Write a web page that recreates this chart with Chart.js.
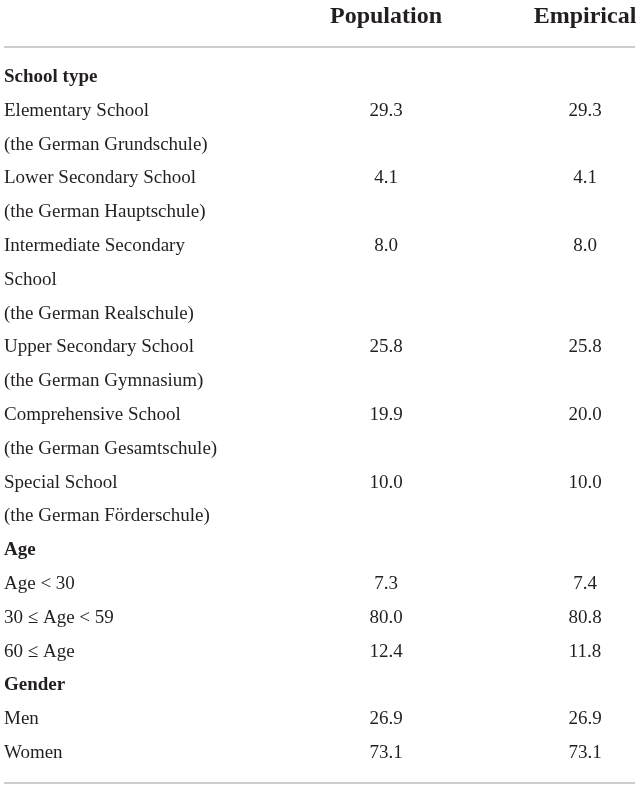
<!DOCTYPE html>
<html>
<head>
<meta charset="utf-8">
<script src="https://cdn.jsdelivr.net/npm/chart.js@4.4.0/dist/chart.umd.min.js"></script>
<style>
  html, body { margin: 0; padding: 0; background: #fff; }
  #wrap { width: 641px; height: 788px; }
</style>
</head>
<body>
<div id="wrap"><canvas id="sample-table"></canvas></div>
<script>
const columnLabels = ['Population', 'Empirical'];

const rowLabels = [
  'School type',
  'Elementary School',
  '(the German Grundschule)',
  'Lower Secondary School',
  '(the German Hauptschule)',
  'Intermediate Secondary',
  'School',
  '(the German Realschule)',
  'Upper Secondary School',
  '(the German Gymnasium)',
  'Comprehensive School',
  '(the German Gesamtschule)',
  'Special School',
  '(the German Förderschule)',
  'Age',
  'Age < 30',
  '30 ≤ Age < 59',
  '60 ≤ Age',
  'Gender',
  'Men',
  'Women',
];

const groupLabels = ['School type', 'Age', 'Gender'];

const populationValues = [null, 29.3, null, 4.1, null, 8.0, null, null, 25.8, null, 19.9, null, 10.0, null, null, 7.3, 80.0, 12.4, null, 26.9, 73.1];
const empiricalValues = [null, 29.3, null, 4.1, null, 8.0, null, null, 25.8, null, 20.0, null, 10.0, null, null, 7.4, 80.8, 11.8, null, 26.9, 73.1];

const serif = '"Liberation Serif", "Times New Roman", "DejaVu Serif", serif';
const textColor = '#231f20';
const ruleColor = '#cccccc';

function toCells(values, column) {
  return values
    .map((v, i) => (v === null ? null : { x: column, y: rowLabels[i], v: v }))
    .filter((cell) => cell !== null);
}

// writes the numbers where the scales put each cell
const cellText = {
  id: 'cellText',
  afterDatasetsDraw(chart) {
    const ctx = chart.ctx;
    ctx.save();
    ctx.font = '19px ' + serif;
    ctx.fillStyle = textColor;
    ctx.textAlign = 'center';
    ctx.textBaseline = 'middle';
    chart.data.datasets.forEach((ds, di) => {
      chart.getDatasetMeta(di).data.forEach((pt, i) => {
        ctx.fillText(ds.data[i].v.toFixed(1), pt.x, pt.y);
      });
    });
    ctx.restore();
  },
};

// top and bottom rules of the table
const tableRules = {
  id: 'tableRules',
  afterDraw(chart) {
    const { ctx, chartArea } = chart;
    const left = chart.scales.y.left;
    const right = chart.width - 6;
    ctx.save();
    ctx.strokeStyle = ruleColor;
    ctx.lineWidth = 2;
    [chartArea.top - 13, chartArea.bottom + 13].forEach((y) => {
      ctx.beginPath();
      ctx.moveTo(left, y);
      ctx.lineTo(right, y);
      ctx.stroke();
    });
    ctx.restore();
  },
};

new Chart(document.getElementById('sample-table'), {
  type: 'scatter',
  data: {
    datasets: [
      { label: columnLabels[0], data: toCells(populationValues, columnLabels[0]), pointRadius: 0 },
      { label: columnLabels[1], data: toCells(empiricalValues, columnLabels[1]), pointRadius: 0 },
    ],
  },
  options: {
    responsive: true,
    maintainAspectRatio: false,
    animation: false,
    layout: { padding: { left: 4, right: 56, top: 0, bottom: 18 } },
    plugins: {
      legend: { display: false },
      tooltip: { enabled: false },
    },
    scales: {
      x: {
        type: 'category',
        labels: columnLabels,
        position: 'top',
        offset: false,
        grid: { display: false, drawTicks: true, tickLength: 29 },
        border: { display: false },
        ticks: {
          autoSkip: false,
          maxRotation: 0,
          padding: 0,
          color: textColor,
          font: { family: serif, size: 24, weight: 'bold' },
        },
        afterFit(scale) {
          scale.height = 60;
          scale.paddingLeft = 0;
          scale.paddingRight = 0;
        },
      },
      y: {
        type: 'category',
        labels: rowLabels,
        offset: true,
        grid: { display: false, drawTicks: false },
        border: { display: false },
        ticks: {
          autoSkip: false,
          crossAlign: 'far',
          padding: 0,
          color: textColor,
          font: (c) => ({
            family: serif,
            size: 19,
            weight: c.tick && groupLabels.includes(c.tick.label) ? 'bold' : 'normal',
          }),
        },
        afterFit(scale) {
          scale.width = 382;
        },
      },
    },
  },
  plugins: [cellText, tableRules],
});
</script>
</body>
</html>
